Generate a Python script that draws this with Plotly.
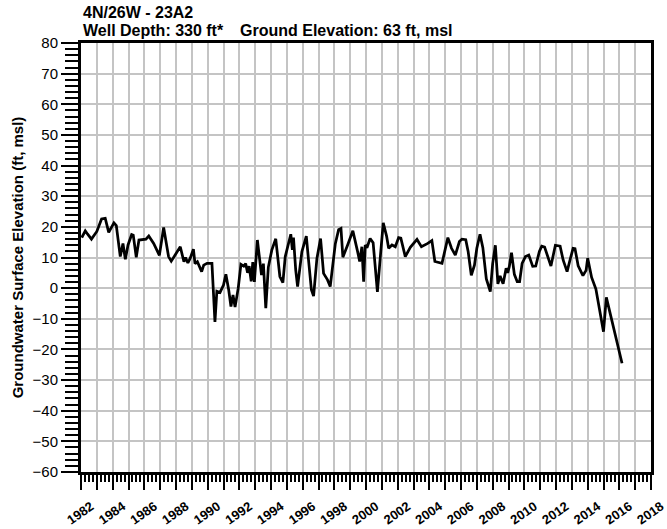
import plotly.graph_objects as go

# ---- data (decimal years, groundwater elevation ft msl) ----
YEARS = [1982.05, 1982.27, 1982.42, 1982.66, 1983.0, 1983.3, 1983.53, 1983.75, 1984.08, 1984.23,
         1984.48, 1984.65, 1984.8, 1984.97, 1985.2, 1985.3, 1985.49, 1985.66, 1986.1, 1986.28,
         1986.59, 1986.8, 1986.95, 1987.22, 1987.39, 1987.53, 1987.7, 1988.27, 1988.5, 1988.6,
         1988.75, 1988.9, 1989.1, 1989.2, 1989.35, 1989.62, 1989.75, 1989.96, 1990.27, 1990.46,
         1990.58, 1990.78, 1991.0, 1991.15, 1991.33, 1991.47, 1991.6, 1991.73, 1991.93, 1992.1,
         1992.28, 1992.4, 1992.52, 1992.62, 1992.75, 1992.85, 1992.95, 1993.14, 1993.4, 1993.52,
         1993.67, 1993.83, 1994.05, 1994.3, 1994.56, 1994.75, 1994.9, 1995.25, 1995.35, 1995.42,
         1995.56, 1995.68, 1995.95, 1996.23, 1996.37, 1996.55, 1996.69, 1996.9, 1997.13, 1997.32,
         1997.57, 1997.74, 1998.06, 1998.27, 1998.42, 1998.54, 1998.84, 1999.17, 1999.47, 1999.6,
         1999.74, 1999.85, 1999.95, 2000.06, 2000.26, 2000.45, 2000.6, 2000.72, 2000.91, 2001.09,
         2001.3, 2001.43, 2001.64, 2001.85, 2002.06, 2002.2, 2002.48, 2002.8, 2003.22, 2003.5,
         2003.9, 2004.16, 2004.35, 2004.8, 2005.17, 2005.4, 2005.64, 2005.9, 2006.06, 2006.3,
         2006.45, 2006.65, 2006.85, 2007.0, 2007.2, 2007.38, 2007.6, 2007.85, 2008.0, 2008.17,
         2008.33, 2008.47, 2008.6, 2008.66, 2008.85, 2008.95, 2009.05, 2009.19, 2009.37, 2009.55,
         2009.7, 2009.86, 2010.07, 2010.28, 2010.53, 2010.72, 2010.95, 2011.1, 2011.28, 2011.4,
         2011.68, 2011.96, 2012.26, 2012.45, 2012.7, 2012.9, 2013.08, 2013.2, 2013.4, 2013.7,
         2013.9, 2014.0, 2014.25, 2014.52, 2014.76, 2015.0, 2015.18, 2016.17]
ELEV = [16.5, 18.7, 17.6, 16.0, 18.5, 22.6, 22.8, 18.2, 21.3, 20.4,
        10.3, 14.6, 9.4, 14.1, 17.5, 17.3, 10.1, 15.7, 16.0, 17.0,
        14.6, 12.5, 10.7, 19.8, 14.2, 10.3, 8.8, 13.5, 8.6, 10.0,
        8.2, 9.8, 12.7, 8.0, 8.6, 5.4, 7.5, 8.1, 8.1, -11.0,
        -1.0, -1.4, 1.0, 4.5, -0.6, -6.0, -2.2, -6.2, 0.0, 7.8,
        7.2, 8.0, 5.0, 7.2, 2.2, 8.5, 2.0, 15.7, 4.3, 8.0,
        -6.5, 6.8, 12.4, 16.1, 3.8, 1.8, 10.3, 17.6, 12.5, 16.5,
        6.0, 0.5, 11.9, 17.0, 9.2, -0.5, -2.6, 9.7, 16.2, 4.8,
        2.7, 0.5, 14.4, 19.1, 19.5, 10.1, 14.1, 18.7, 11.9, 8.7,
        13.5, 2.1, 14.1, 13.2, 16.2, 14.8, 6.0, -1.2, 10.5, 21.3,
        17.0, 13.0, 14.1, 13.5, 16.5, 16.3, 10.3, 13.3, 15.9, 13.5,
        14.6, 15.5, 8.7, 8.1, 16.5, 13.0, 10.8, 15.2, 16.0, 15.8,
        12.0, 4.2, 7.5, 13.0, 17.6, 13.2, 3.0, -1.1, 8.0, 14.0,
        1.4, 4.0, 2.2, 1.4, 6.5, 5.0, 7.0, 11.6, 4.5, 2.1,
        2.1, 8.1, 10.3, 10.8, 7.1, 7.2, 12.0, 13.7, 13.4, 11.5,
        7.2, 14.0, 13.7, 9.2, 5.4, 9.5, 13.0, 12.9, 7.3, 4.1,
        5.8, 9.8, 3.5, -0.3, -8.0, -14.2, -3.0, -24.5]

TICK_YEARS = list(range(1982, 2019))
TICK_LABELS = [str(y) if y % 2 == 0 else "" for y in TICK_YEARS]

TITLE_1 = "4N/26W - 23A2"
TITLE_2A = "Well Depth: 330 ft*"
TITLE_2B = "Ground Elevation: 63 ft, msl"
Y_TITLE = "Groundwater Surface Elevation (ft, msl)"

FONT = "Arial, Liberation Sans, sans-serif"

fig = go.Figure()
fig.add_trace(go.Scatter(x=YEARS, y=ELEV, mode="lines",
                         line=dict(color="black", width=2.75), showlegend=False))

fig.update_layout(
    width=667, height=529,
    margin=dict(l=81, r=16, t=43, b=57, autoexpand=False),
    paper_bgcolor="white", plot_bgcolor="white",
    font=dict(family=FONT, color="black"),
    annotations=[
        dict(text="<b>%s</b>" % TITLE_1, xref="paper", yref="paper", x=0.0, y=1.07,
             xanchor="left", yanchor="middle", showarrow=False, font=dict(size=16)),
        dict(text="<b>%s</b>" % TITLE_2A, xref="paper", yref="paper", x=0.0, y=1.028,
             xanchor="left", yanchor="middle", showarrow=False, font=dict(size=16)),
        dict(text="<b>%s</b>" % TITLE_2B, xref="paper", yref="paper", x=0.276, y=1.028,
             xanchor="left", yanchor="middle", showarrow=False, font=dict(size=16)),
    ],
)

fig.update_xaxes(
    range=[1982, 2018], tickmode="array", tickvals=TICK_YEARS, ticktext=TICK_LABELS,
    showgrid=True, gridcolor="#c4c4c4", gridwidth=1.5,
    showline=True, linecolor="black", linewidth=3, mirror=True,
    ticks="outside", ticklen=15, tickwidth=2, tickcolor="black",
    tickangle=-35, tickfont=dict(size=13, family=FONT, weight="bold"),
    ticklabelshift=10, ticklabelstandoff=4, ticklabeloverflow="allow",
    minor=dict(dtick=0.25, tick0=1982, ticks="outside", ticklen=7, tickwidth=2,
               tickcolor="black", showgrid=False),
    zeroline=False,
)
fig.update_yaxes(
    range=[-60, 80], dtick=10, tick0=0,
    showgrid=True, gridcolor="#c4c4c4", gridwidth=1.5,
    showline=True, linecolor="black", linewidth=3, mirror=True,
    ticks="outside", ticklen=17, tickwidth=2, tickcolor="black",
    tickfont=dict(size=15, family=FONT),
    minor=dict(dtick=2, ticks="outside", ticklen=13, tickwidth=2,
               tickcolor="black", showgrid=False),
    title=dict(text="<b>%s</b>" % Y_TITLE, font=dict(size=15), standoff=6),
    zeroline=False,
)

fig.write_html("out.html")
